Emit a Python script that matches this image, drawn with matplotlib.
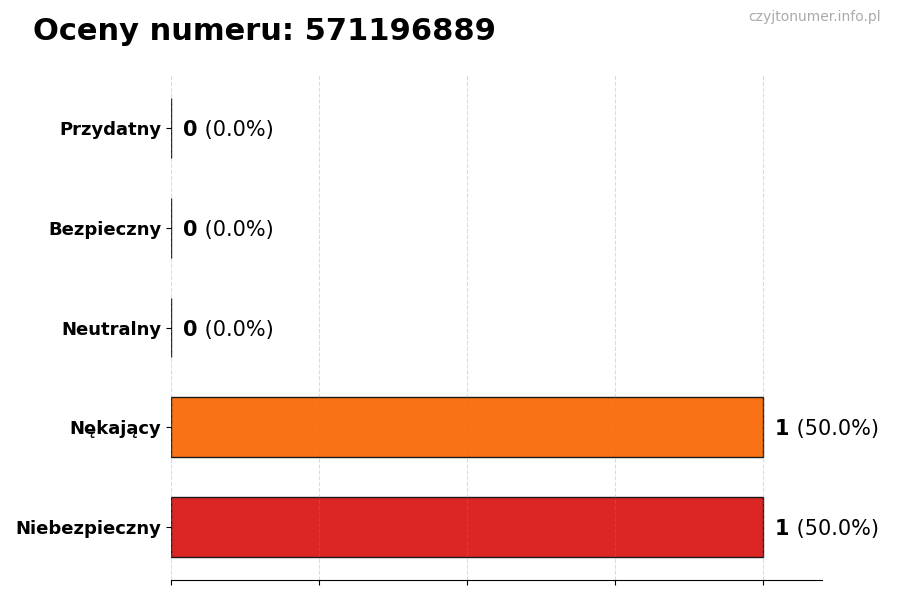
import matplotlib
matplotlib.use("Agg")
import matplotlib.pyplot as plt

categories = ["Niebezpieczny", "Nękający", "Neutralny", "Bezpieczny", "Przydatny"]
counts = [1, 1, 0, 0, 0]
percents = [50.0, 50.0, 0.0, 0.0, 0.0]
colors = ["#DC2626", "#F97316", "#9CA3AF", "#22C55E", "#3B82F6"]
title = "Oceny numeru: 571196889"
watermark = "czyjtonumer.info.pl"
xticks = [0, 0.25, 0.5, 0.75, 1.0]

fig = plt.figure(figsize=(9, 6), dpi=100)
ax = fig.add_axes([0.19, 0.0333, 0.723, 0.8417])

y = list(range(len(categories)))
ax.barh(y, counts, height=0.6, color=colors, edgecolor="#1a1a1a", linewidth=1)
ax.set_yticks(y)
ax.set_yticklabels(categories, fontsize=13, fontweight="bold")
ax.set_xlim(0, 1.1)
ax.set_xticks(xticks)
ax.set_xticklabels([])
ax.grid(axis="x", linestyle="--", color="#888888", alpha=0.3, linewidth=0.8)
for s in ["top", "right", "left"]:
    ax.spines[s].set_visible(False)

for yi, c, p in zip(y, counts, percents):
    t1 = ax.annotate(f"{c}", xy=(c, yi), xytext=(9, 0), textcoords="offset points",
                     va="center_baseline", ha="left", fontsize=15, fontweight="bold")
    ax.annotate(f" ({p:.1f}%)", xy=(1, 0), xycoords=t1, va="bottom", ha="left",
                fontsize=15)

fig.text(0.037, 0.948, title, fontsize=22, fontweight="bold", ha="left", va="center")
fig.text(0.979, 0.971, watermark, fontsize=10, color="#aaaaaa", ha="right", va="center")

fig.savefig("out.png", dpi=100)
